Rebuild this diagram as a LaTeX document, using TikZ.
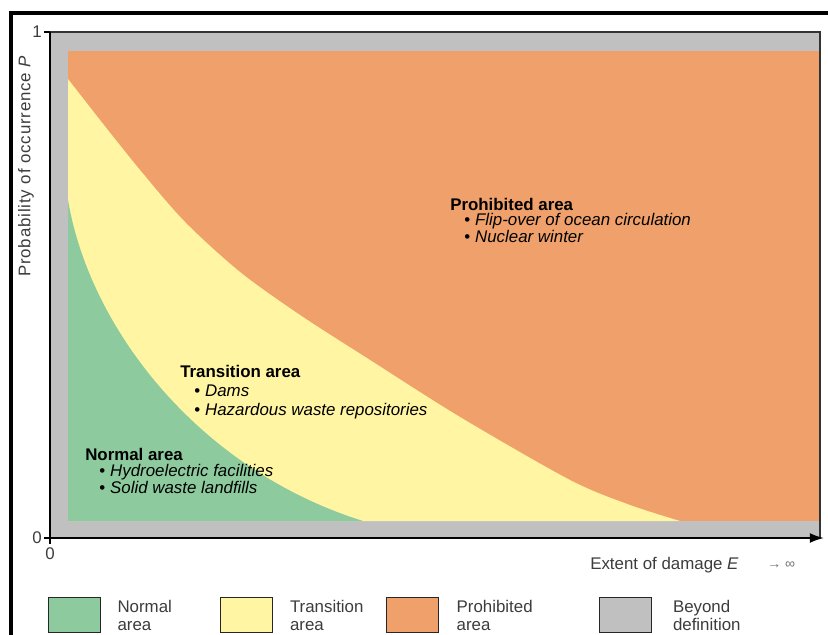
\documentclass[tikz,border=0pt]{standalone}
\usepackage{fontspec}
\setmainfont{Liberation Sans}
\usepackage{tikz}
\usetikzlibrary{arrows.meta}
\usetikzlibrary{positioning}
\definecolor{normalgreen}{RGB}{141,203,158}
\definecolor{transyellow}{RGB}{255,245,162}
\definecolor{prohorange}{RGB}{240,160,106}
\definecolor{beyondgray}{RGB}{192,192,192}
\definecolor{labelgray}{RGB}{60,60,60}
\tikzset{>=latex}
\tikzstyle{areatext} = [draw=none, inner sep=0, anchor=base west, align=left]
\tikzstyle{axistext} = [draw=none, inner sep=0, text=labelgray, font=\fontsize{12}{12}\selectfont]
\tikzstyle{legendbox} = [rectangle, draw=black!85, semithick, minimum width=1.3cm, minimum height=0.875cm, inner sep=0]
\tikzstyle{legendtext} = [draw=none, inner sep=0, align=left, text=labelgray, font=\fontsize{12}{12.8}\selectfont]
\newcommand{\areaitem}[1]{\hspace*{10pt}\textbullet\hspace{3.5pt}\textit{#1}}

\begin{document}
\begin{tikzpicture}[x=0.025cm, y=-0.025cm]
\useasboundingbox (0,0) rectangle (828,635);
% frame
\draw [line width=2.2pt] (11,635) -- (11,13) -- (828,13);
\coordinate (O) at (50,538);
\coordinate (Ytop) at (50,32);
\coordinate (TR) at (820,32);
\coordinate (BR) at (820,538);
\coordinate (Xend) at (824,538);
% areas
\fill [beyondgray] (Ytop) rectangle (BR);
\fill [prohorange] (68,51) rectangle (820,521);
\fill [transyellow] (68,521) -- plot [smooth, tension=0.5] coordinates {(68,79) (100,120) (140,170) (185,222) (240,272) (300,315) (370,360) (460,417) (570,480) (630,505) (680,521)} -- cycle;
\fill [normalgreen] (68,521) -- (68,200) .. controls (90,330) and (200,470) .. (363,521) -- cycle;
% axes
\draw [black!80, thick] (Ytop) -- (TR) -- (BR);
\draw [line width=1.4pt] (O) -- (Ytop);
\draw [line width=1.4pt, -{Latex[length=10pt, width=7pt]}] (O) -- (Xend);
\draw [thick] (44,32) -- (Ytop);
\draw [thick] (44,538) -- (O) -- (50,544);
\node [axistext, anchor=east] (tickone) at (42,32) {1};
\node [axistext, anchor=east] (tickzeroy) at (42,538) {0};
\node [axistext, anchor=north] (tickzerox) at (50,547) {0};
\node [axistext, rotate=90, font=\fontsize{12}{12}\selectfont\addfontfeature{LetterSpace=5}] (ylabel) at (26,166) {Probability of occurrence \textit{P}};
\node [axistext, anchor=base west] (xlabel) at (590,569) {Extent of damage \textit{E}};
\node [axistext, anchor=base west, font=\fontsize{10}{10}\selectfont, text=black!55] (xinf) at (767,568) {→ ∞};
% area labels
\node [areatext, font=\fontsize{12}{11}\selectfont] (prohtitle) at (450,243) {\textbf{Prohibited area}\\
  \areaitem{Flip-over of ocean circulation}\\
  \areaitem{Nuclear winter}};
\node [areatext, font=\fontsize{12}{13.2}\selectfont] (transtitle) at (180,415) {\textbf{Transition area}\\
  \areaitem{Dams}\\
  \areaitem{Hazardous waste repositories}};
\node [areatext, font=\fontsize{12}{11.7}\selectfont] (normaltitle) at (85,493) {\textbf{Normal area}\\
  \areaitem{Hydroelectric facilities}\\
  \areaitem{Solid waste landfills}};
% legend
\node [legendbox, fill=normalgreen] (legnormal) at (74,615) {};
\node [legendbox, fill=transyellow] (legtrans) at (246.5,615) {};
\node [legendbox, fill=prohorange] (legproh) at (412,615) {};
\node [legendbox, fill=beyondgray] (legbeyond) at (625.5,615) {};
\node [legendtext, anchor=west, right=0.42cm of legnormal] (txtnormal) {Normal\\area};
\node [legendtext, anchor=west, right=0.42cm of legtrans] (txttrans) {Transition\\area};
\node [legendtext, anchor=west, right=0.45cm of legproh] (txtproh) {Prohibited\\area};
\node [legendtext, anchor=west, right=0.52cm of legbeyond] (txtbeyond) {Beyond\\definition};
\end{tikzpicture}
\end{document}
